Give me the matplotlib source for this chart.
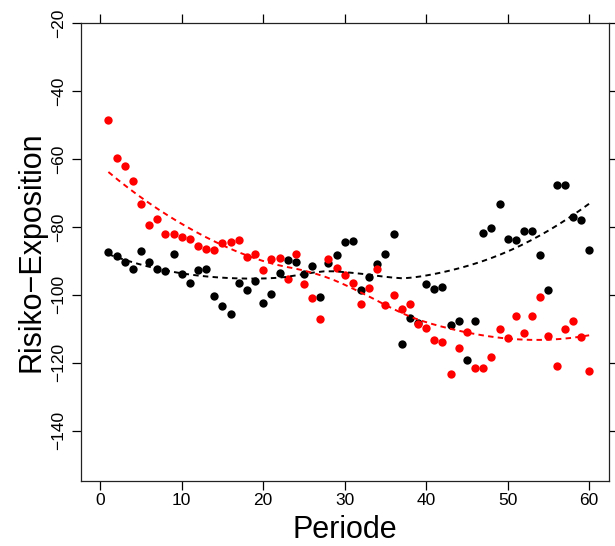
import numpy as np
import matplotlib
matplotlib.use("Agg")
import matplotlib.pyplot as plt

plt.rcParams['font.family'] = ['Liberation Sans', 'DejaVu Sans']

periode = list(range(1, 61))

schwarz = [-87.5, -88.6, -90.2, -92.3, -87.2, -90.3, -92.5, -93.1, -88.0, -94.0,
           -96.4, -92.7, -92.3, -100.3, -103.4, -105.7, -96.5, -98.7, -95.9, -102.5,
           -99.9, -93.6, -89.7, -90.4, -94.0, -91.5, -100.6, -90.7, -88.3, -84.5,
           -84.2, -98.5, -94.8, -90.9, -88.1, -82.1, -114.4, -106.8, -108.3, -96.7,
           -98.2, -97.7, -108.9, -107.7, -119.2, -107.6, -81.8, -80.4, -73.4, -83.7,
           -84.0, -81.2, -81.1, -88.2, -98.5, -67.7, -67.7, -77.0, -78.0, -86.9]

rot = [-48.5, -59.7, -62.1, -66.6, -73.4, -79.6, -77.8, -82.2, -82.0, -83.1,
       -83.5, -85.7, -86.4, -86.7, -84.7, -84.5, -83.9, -88.8, -88.0, -92.7,
       -89.4, -89.1, -95.3, -88.0, -96.8, -101.0, -107.0, -89.6, -92.2, -94.3,
       -96.4, -102.7, -98.1, -92.5, -103.0, -100.0, -104.3, -102.8, -108.6, -109.7,
       -113.3, -114.0, -123.4, -115.6, -110.8, -121.5, -121.5, -118.4, -110.1, -112.7,
       -106.2, -111.3, -106.2, -100.5, -112.2, -121.1, -110.0, -107.7, -112.5, -122.4]

x_ticks = [0, 10, 20, 30, 40, 50, 60]
y_ticks = [-140, -120, -100, -80, -60, -40, -20]


def loess(x, y, span=0.8, degree=2, n_eval=50, iterations=4):
    # loess-Glaettung, family = "symmetric" (robuste Bisquare-Gewichte)
    x = np.asarray(x, float)
    y = np.asarray(y, float)
    n = len(x)
    q = int(np.floor(n * span))

    def fit_at(x0, rob):
        d = np.abs(x - x0)
        h = np.sort(d)[q - 1]
        w = np.clip(1 - (d / h) ** 3, 0, None) ** 3 * rob
        X = np.vander(x - x0, degree + 1)
        W = np.diag(w)
        beta = np.linalg.lstsq(X.T @ W @ X, X.T @ W @ y, rcond=None)[0]
        return beta[-1]

    rob = np.ones(n)
    for _ in range(iterations - 1):
        fitted = np.array([fit_at(xi, rob) for xi in x])
        res = y - fitted
        s = np.median(np.abs(res))
        u = res / (6 * s)
        rob = np.clip(1 - u ** 2, 0, None) ** 2
    xs = np.linspace(x.min(), x.max(), n_eval)
    ys = np.array([fit_at(x0, rob) for x0 in xs])
    return xs, ys


fig = plt.figure(figsize=(6.15, 5.46), dpi=100)
ax = fig.add_axes([80.7 / 615, 1 - 481 / 546, (608.7 - 80.7) / 615, (481 - 23) / 546])

ax.scatter(periode, schwarz, s=36, color="black", zorder=2, linewidths=0)
ax.scatter(periode, rot, s=36, color="red", zorder=3, linewidths=0)

xs, ys = loess(periode, schwarz)
ax.plot(xs, ys, color="black", lw=1.4, dashes=(2.8, 2.2), zorder=4)
xs, ys = loess(periode, rot)
ax.plot(xs, ys, color="red", lw=1.4, dashes=(2.8, 2.2), zorder=4)

ax.set_xlim(-2.4, 62.4)
ax.set_ylim(-154.8, -20)
ax.set_xticks(x_ticks)
ax.set_yticks(y_ticks)
ax.set_yticklabels([str(t).replace("-", "\u2212") for t in y_ticks],
                   rotation=90, va="center")
ax.tick_params(direction="out", length=6.5, width=0.9, labelsize=12.5,
               top=True, right=True)
ax.tick_params(axis="x", pad=2)
ax.tick_params(axis="y", pad=4)

for s in ax.spines.values():
    s.set_linewidth(0.9)
    s.set_color("#222222")

ax.set_xlabel("Periode", fontsize=22, labelpad=5)
ax.set_ylabel("Risiko\u2212Exposition", fontsize=22, labelpad=3)

fig.savefig("out.png", dpi=100)
